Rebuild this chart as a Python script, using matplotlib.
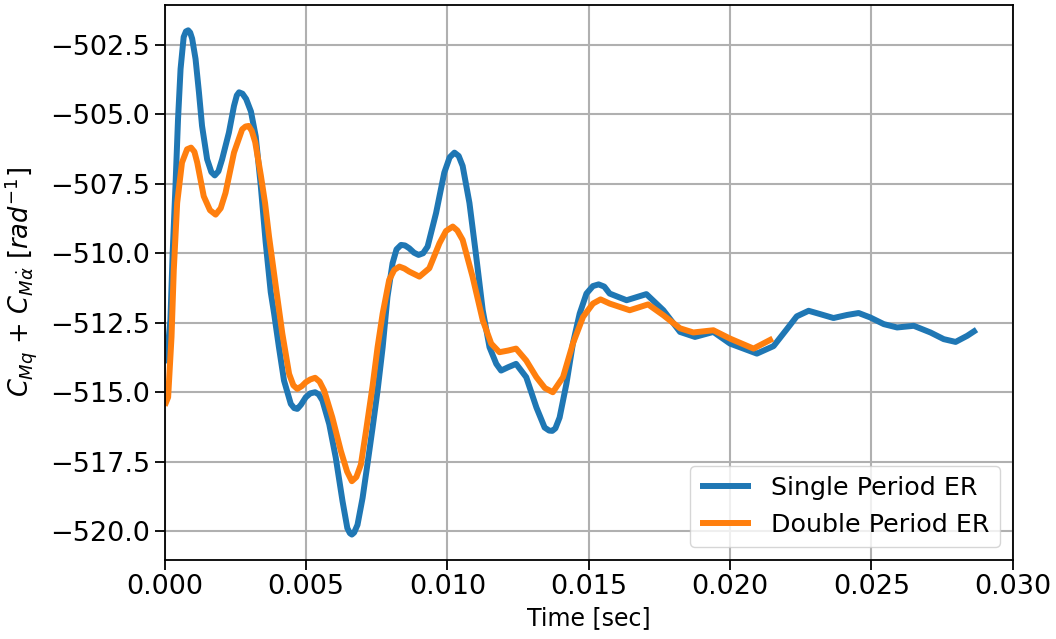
import matplotlib
matplotlib.use("Agg")
import matplotlib.pyplot as plt
import numpy as np

plt.rcParams['font.size'] = 19.5

# time [ms] and coefficient samples for each estimation
t_single_ms = [0.00, 0.05, 0.12, 0.20, 0.28, 0.38, 0.47, 0.56, 0.67, 0.75, 0.83,
               0.90, 0.97, 1.09, 1.21, 1.32, 1.50, 1.65, 1.77, 1.90, 2.03, 2.27, 2.45, 2.55, 2.63,
               2.75, 2.88, 3.05, 3.22, 3.40, 3.57, 3.75, 3.87, 4.04, 4.22, 4.46,
               4.58, 4.69, 4.82, 4.99, 5.15, 5.32, 5.45, 5.58, 5.82, 6.05, 6.29, 6.46, 6.55, 6.62, 6.70, 6.82,
               7.00, 7.17, 7.35, 7.53, 7.71, 7.88, 8.06, 8.20, 8.36, 8.50, 8.65, 8.82, 8.98, 9.14,
               9.30, 9.60, 9.89, 10.08, 10.25, 10.40, 10.54, 10.78, 11.02, 11.25, 11.49, 11.73,
               11.90, 12.15, 12.43, 12.79, 13.15, 13.44, 13.60, 13.71, 13.82, 13.97, 14.21, 14.44,
               14.68, 14.92, 15.15, 15.35, 15.55, 15.74, 16.34, 17.04, 17.64, 18.23, 18.76, 19.41,
               20.00, 20.95, 21.54, 22.01, 22.36, 22.78, 23.19, 23.66, 24.14, 24.55,
               24.96, 25.44, 25.91, 26.50, 27.09, 27.56, 27.98, 28.39, 28.72]
cm_single = [-513.15, -513.86, -513.30, -512.41, -510.00, -507.59, -505.18, -503.37, -502.22, -502.02, -501.98,
             -502.06, -502.28, -503.01, -504.21, -505.42, -506.62, -507.08, -507.20, -507.05, -506.62, -505.66, -504.70, -504.32, -504.21,
             -504.26, -504.45, -504.90, -505.80, -507.60, -509.60, -511.40, -512.17, -513.38, -514.58, -515.42,
             -515.57, -515.60, -515.45, -515.18, -515.04, -515.00, -515.08, -515.30, -516.15, -517.35, -518.92, -519.89, -520.07, -520.12, -520.05, -519.77,
             -518.80, -517.60, -516.30, -514.94, -513.38, -511.57, -510.36, -509.86, -509.70, -509.72, -509.82, -509.98, -510.06, -510.00,
             -509.76, -508.55, -507.10, -506.55, -506.38, -506.50, -506.86, -508.19, -510.12, -512.05, -513.38, -513.98,
             -514.22, -514.10, -513.98, -514.46, -515.55, -516.27, -516.38, -516.39, -516.30, -515.91, -514.70, -513.25,
             -512.17, -511.45, -511.18, -511.12, -511.20, -511.45, -511.69, -511.47, -512.05, -512.83, -513.01, -512.83,
             -513.25, -513.61, -513.34, -512.73, -512.27, -512.07, -512.19, -512.33, -512.22, -512.15,
             -512.31, -512.55, -512.67, -512.61, -512.85, -513.09, -513.19, -512.97, -512.75]

t_double_ms = [0.00, 0.12, 0.24, 0.32, 0.44, 0.61, 0.79, 0.93, 1.05, 1.15, 1.38,
               1.60, 1.80, 1.98, 2.15, 2.45, 2.74, 2.86, 2.97, 3.08, 3.20, 3.40, 3.55, 3.69, 3.93,
               4.16, 4.40, 4.55, 4.69, 4.85, 4.99, 5.15, 5.32, 5.48, 5.64, 5.93, 6.23, 6.45, 6.62, 6.78, 6.94,
               7.12, 7.35, 7.53, 7.71, 7.94, 8.12, 8.30, 8.48, 8.65, 9.01, 9.36, 9.72,
               9.95, 10.19, 10.35, 10.54, 10.89, 11.25, 11.55, 11.84, 12.15, 12.43, 12.79, 13.15, 13.45, 13.73,
               14.09, 14.44, 14.80, 15.15, 15.42, 15.74, 16.45, 17.10, 17.64, 18.23,
               18.70, 19.41, 20.00, 20.83, 21.51]
cm_double = [-515.48, -515.18, -513.01, -510.60, -508.19, -506.74, -506.26, -506.20, -506.35, -506.74, -507.95,
             -508.45, -508.61, -508.38, -507.83, -506.38, -505.54, -505.44, -505.42, -505.60, -506.00, -507.20, -508.20, -509.40, -511.20,
             -512.89, -514.34, -514.75, -514.88, -514.78, -514.64, -514.54, -514.48, -514.62, -514.94, -515.91, -517.11, -517.85, -518.20, -518.05, -517.60,
             -516.40, -514.80, -513.38, -512.17, -510.96, -510.60, -510.48, -510.55, -510.66, -510.84, -510.54, -509.64,
             -509.20, -509.04, -509.18, -509.52, -510.84, -512.41, -513.25, -513.56, -513.50, -513.43, -513.86, -514.46, -514.85, -515.00,
             -514.46, -513.25, -512.29, -511.81, -511.66, -511.81, -512.05, -511.84, -512.23, -512.70,
             -512.85, -512.77, -513.07, -513.43, -513.07]

t_single = np.array(t_single_ms) / 1000.0
t_double = np.array(t_double_ms) / 1000.0

fig = plt.figure(figsize=(10.56, 6.39), dpi=100)
ax = fig.add_axes([0.156, 0.124, 0.803, 0.868])

ax.plot(t_single, cm_single, color='#1f77b4', linewidth=4.3,
        solid_joinstyle='round', solid_capstyle='butt', label='Single Period ER')
ax.plot(t_double, cm_double, color='#ff7f0e', linewidth=4.3,
        solid_joinstyle='round', solid_capstyle='butt', label='Double Period ER')

ax.set_xlim(0, 0.030)
ax.set_xticks([0.000, 0.005, 0.010, 0.015, 0.020, 0.025, 0.030])
ax.set_yticks([-502.5, -505.0, -507.5, -510.0, -512.5, -515.0, -517.5, -520.0])
ax.set_xlabel('Time [sec]', fontsize=17, labelpad=4)
ax.set_ylabel(r'$C_{Mq}$ + $C_{M\dot{\alpha}}$ $[rad^{-1}]$', fontsize=18.5, labelpad=8)
ax.grid(True, linewidth=1.5, color='#b0b0b0')
ax.tick_params(length=7, width=1.3)
for s in ax.spines.values():
    s.set_linewidth(1.3)
ax.legend(loc='lower right', fontsize=18.3)

fig.savefig('out.png', dpi=100)
